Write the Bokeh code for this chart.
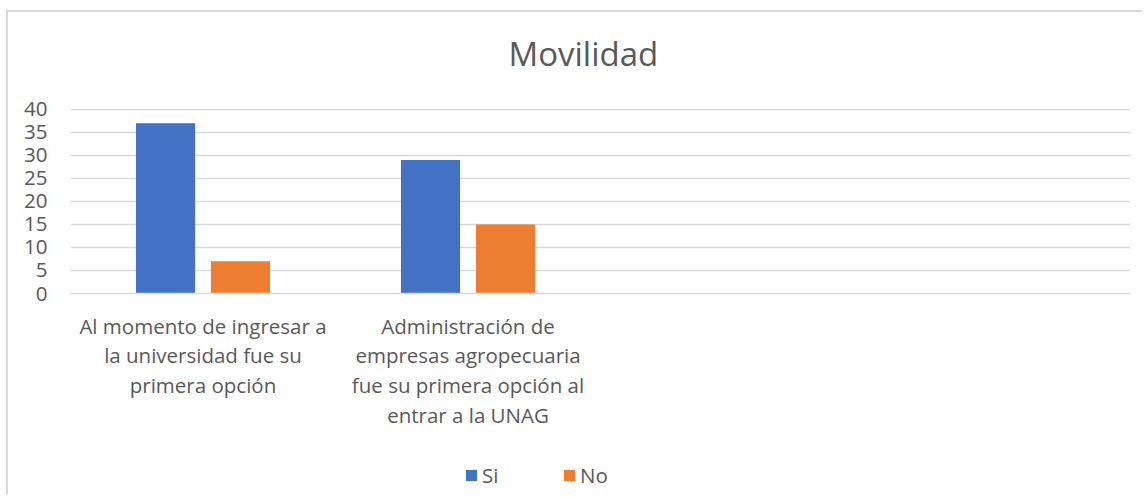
from bokeh.plotting import figure
from bokeh.models import FactorRange, Range1d, ColumnDataSource, Legend, LegendItem, FixedTicker, Title
from bokeh.layouts import column
from bokeh.transform import dodge
from bokeh.embed import file_html
from bokeh.resources import INLINE

categories = [
    "Al momento de ingresar a\nla universidad fue su\nprimera opción",
    "Administración de\nempresas agropecuaria\nfue su primera opción al\nentrar a la UNAG",
    " ",
    "  ",
]
si_values = [37, 29, 0, 0]
no_values = [7, 15, 0, 0]
series_names = ["Si", "No"]
y_ticks = [0, 5, 10, 15, 20, 25, 30, 35, 40]
chart_title = "Movilidad"

BLUE = "#4472C4"
ORANGE = "#ED7D31"
GRAY = "#595959"
GRID = "#D9D9D9"
FONT = "Open Sans"
W = 1134


def strip(height):
    f = figure(width=W, height=height, x_range=Range1d(0, 1), y_range=Range1d(0, 1),
               output_backend="svg", toolbar_location=None,
               min_border_left=0, min_border_right=0, min_border_top=0, min_border_bottom=0)
    f.axis.visible = False
    f.grid.visible = False
    f.outline_line_color = None
    return f


# title strip
tf = strip(81)
t = Title(text=chart_title, align="left", offset=438, text_font=FONT, text_font_size="33px",
          text_font_style="normal", text_color=GRAY, standoff=33)
tf.add_layout(t, "above")

src = ColumnDataSource(dict(cat=categories[:2], si=si_values[:2], no=no_values[:2]))

p = figure(
    width=W, height=355,
    x_range=FactorRange(*categories, range_padding=0),
    y_range=Range1d(0, 40.2),
    output_backend="svg", toolbar_location=None,
    min_border_left=62, min_border_right=W - 1122, min_border_top=15, min_border_bottom=155,
)
p.outline_line_color = None
p.background_fill_color = "white"
p.border_fill_color = "white"

r_si = p.vbar(x=dodge("cat", -0.1415, range=p.x_range), top="si", width=0.223, source=src,
              fill_color=BLUE, line_color=None)
r_no = p.vbar(x=dodge("cat", 0.1415, range=p.x_range), top="no", width=0.223, source=src,
              fill_color=ORANGE, line_color=None)

# axes
p.yaxis.ticker = FixedTicker(ticks=y_ticks)
p.yaxis.axis_line_color = None
p.yaxis.major_tick_line_color = None
p.yaxis.minor_tick_line_color = None
p.yaxis.major_label_text_font = FONT
p.yaxis.major_label_text_font_size = "20.5px"
p.yaxis.major_label_text_color = GRAY
p.yaxis.major_label_standoff = 17

p.xaxis.axis_line_color = GRID
p.xaxis.axis_line_width = 1.5
p.xaxis.major_tick_line_color = None
p.xaxis.minor_tick_line_color = None
p.xaxis.major_label_text_font = FONT
p.xaxis.major_label_text_font_size = "20.5px"
p.xaxis.major_label_text_color = GRAY
p.xaxis.major_label_text_line_height = 1.06
p.xaxis.major_label_standoff = 12
p.xaxis.major_label_orientation = "horizontal"

p.xgrid.grid_line_color = None
p.ygrid.grid_line_color = GRID
p.ygrid.grid_line_width = 1.5

# legend strip below the chart
lg = strip(46)
# empty-sized swatch renderers used only for the legend glyphs
l_si = lg.vbar(x=[0.5], top=[0], bottom=[0], width=0, fill_color=BLUE, line_color=None)
l_no = lg.vbar(x=[0.5], top=[0], bottom=[0], width=0, fill_color=ORANGE, line_color=None)

legend = Legend(
    items=[LegendItem(label=series_names[0], renderers=[l_si]),
           LegendItem(label=series_names[1], renderers=[l_no])],
    orientation="horizontal", location=(394, 5),
    border_line_color=None, background_fill_alpha=0,
    padding=0, margin=0, spacing=0,
    glyph_width=14, glyph_height=14, label_standoff=4, label_width=80,
    label_text_font=FONT, label_text_font_size="20.5px", label_text_color=GRAY,
)
lg.add_layout(legend, "center")

layout = column(tf, p, lg, spacing=0, margin=(10, 0, 0, 6),
                styles={"border-left": "2px solid #D9D9D9", "border-top": "2px solid #D9D9D9"})

open("out.html", "w").write(file_html(layout, INLINE))
